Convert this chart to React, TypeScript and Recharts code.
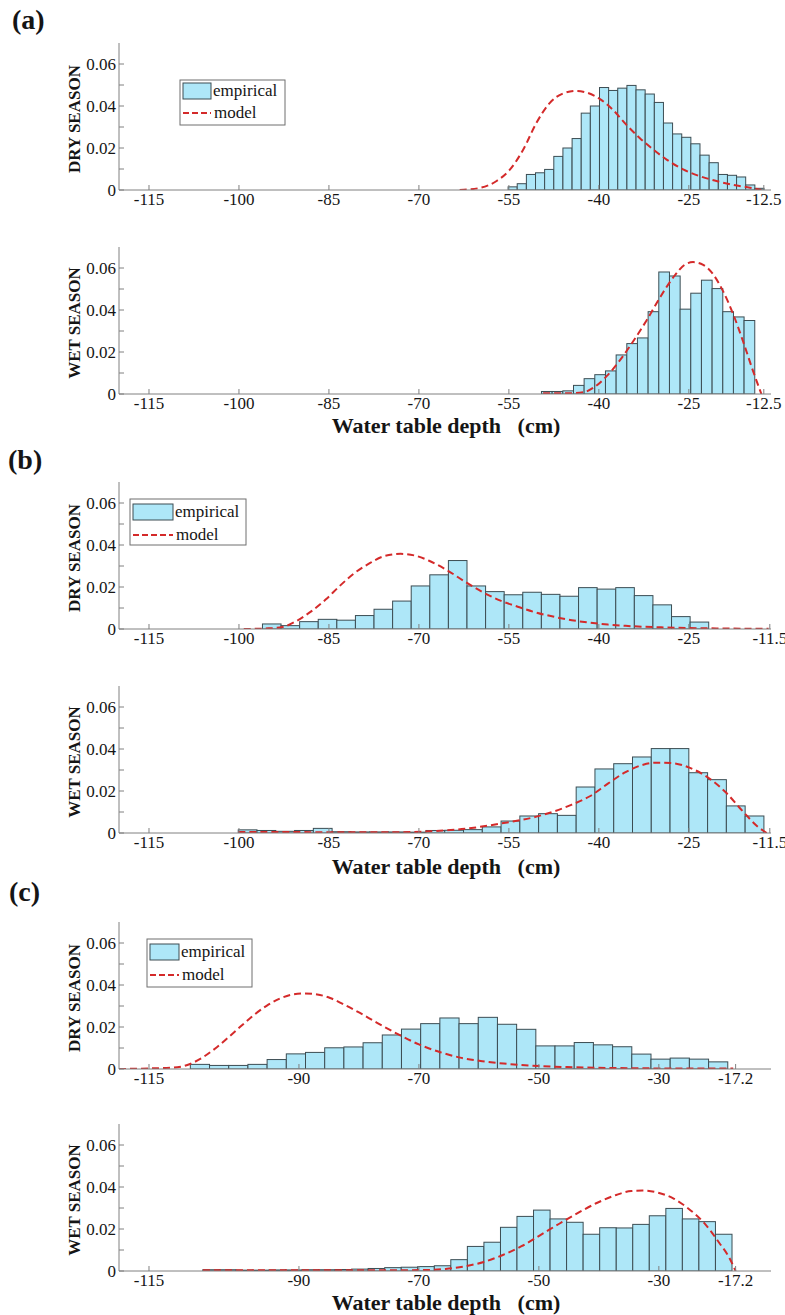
import React from 'react';
import { ComposedChart, Bar, Line, XAxis, YAxis } from 'recharts';

// ---------------- axes ----------------
const X_DOMAIN: [number, number] = [-120, -11.3];
const Y_DOMAIN: [number, number] = [0, 0.07];
const Y_TICKS = [0, 0.01, 0.02, 0.03, 0.04, 0.05, 0.06];
const Y_TICK_LABELS = ['0', '', '0.02', '', '0.04', '', '0.06'];
const X_TICKS_A = [-115, -100, -85, -70, -55, -40, -25, -12.5];
const X_TICKS_B = [-115, -100, -85, -70, -55, -40, -25, -11.5];
const X_TICKS_C = [-115, -90, -70, -50, -30, -17.2];

// ---------------- (a) dry ----------------
const A_DRY_BIN = [-54.37, -52.85, -51.32, -49.8, -48.28, -46.75, -45.23, -43.7, -42.18, -40.66, -39.13, -37.61, -36.09, -34.56, -33.04, -31.51, -29.99, -28.47, -26.94, -25.42, -23.9, -22.37, -20.85, -19.32, -17.8, -16.28, -14.75, -13.23];
const A_DRY_EMP = [0.0015, 0.003, 0.0074, 0.0082, 0.0098, 0.016, 0.02, 0.0245, 0.0366, 0.04, 0.0488, 0.0474, 0.0485, 0.0498, 0.0477, 0.0457, 0.0417, 0.0319, 0.0267, 0.0251, 0.022, 0.0166, 0.013, 0.0074, 0.007, 0.0062, 0.0024, 0.0008];
const A_DRY_MODEL_X = [-63.2, -59.8, -57.05, -54.8, -52.6, -50.4, -48.2, -45.95, -43.7, -42.05, -39.8, -37.6, -35.4, -33.2, -30.95, -28.7, -25.95, -23.2, -20.4, -17.6, -14.8, -12.9];
const A_DRY_MODEL = [0, 0.001, 0.0043, 0.0098, 0.0193, 0.032, 0.0414, 0.046, 0.0472, 0.0464, 0.0433, 0.038, 0.031, 0.0248, 0.0193, 0.0145, 0.0098, 0.0066, 0.0043, 0.0024, 0.0011, 0];

// ---------------- (a) wet ----------------
const A_WET_BIN = [-48.67, -46.89, -45.11, -43.33, -41.56, -39.78, -38.0, -36.22, -34.44, -32.67, -30.89, -29.11, -27.33, -25.56, -23.78, -22.0, -20.22, -18.44, -16.67, -14.89];
const A_WET_EMP = [0.0012, 0.0012, 0.0015, 0.0041, 0.0073, 0.0092, 0.011, 0.0186, 0.024, 0.0267, 0.0392, 0.0581, 0.0562, 0.0404, 0.048, 0.0542, 0.0502, 0.0392, 0.0367, 0.035];
const A_WET_MODEL_X = [-49.3, -45.4, -42.6, -40.9, -38.7, -36.5, -34.3, -32.05, -29.8, -27.6, -25.7, -24.3, -22.6, -20.95, -19.3, -17.6, -15.95, -14.3, -12.9];
const A_WET_MODEL = [0.0003, 0.0003, 0.0008, 0.003, 0.0085, 0.016, 0.025, 0.035, 0.046, 0.0555, 0.0615, 0.0628, 0.0615, 0.057, 0.049, 0.038, 0.025, 0.011, 0];

// ---------------- (b) dry ----------------
const B_DRY_BIN = [-94.53, -91.43, -88.33, -85.23, -82.13, -79.03, -75.93, -72.83, -69.73, -66.63, -63.53, -60.43, -57.33, -54.23, -51.13, -48.03, -44.93, -41.83, -38.73, -35.63, -32.53, -29.43, -26.33, -23.23];
const B_DRY_EMP = [0.0024, 0.0016, 0.0035, 0.0046, 0.0042, 0.0064, 0.0094, 0.0133, 0.0205, 0.0258, 0.0326, 0.0205, 0.0178, 0.0163, 0.0175, 0.0165, 0.0156, 0.0197, 0.019, 0.0197, 0.0159, 0.0115, 0.0059, 0.0033];
const B_DRY_MODEL_X = [-99.2, -95.07, -92.7, -90.3, -87.9, -85.55, -83.2, -80.8, -78.4, -76.0, -73.05, -70.7, -68.3, -65.3, -62.3, -59.35, -56.4, -53.4, -50.4, -47.45, -44.5, -41.5, -38.5, -35.55, -29.6, -23.65, -17.7, -11.7];
const B_DRY_MODEL = [0, 0.0003, 0.001, 0.004, 0.0085, 0.014, 0.0205, 0.0265, 0.031, 0.0345, 0.0358, 0.035, 0.0325, 0.028, 0.0225, 0.0175, 0.0135, 0.0105, 0.0078, 0.0058, 0.0042, 0.003, 0.0021, 0.0015, 0.0008, 0.0004, 0.0002, 0.0001];

// ---------------- (b) wet ----------------
const B_WET_BIN = [-98.55, -95.42, -92.29, -89.16, -86.03, -82.9, -79.77, -76.64, -73.51, -70.38, -67.25, -64.12, -60.99, -57.86, -54.73, -51.6, -48.47, -45.34, -42.21, -39.08, -35.95, -32.82, -29.69, -26.56, -23.43, -20.3, -17.17, -14.04];
const B_WET_EMP = [0.0015, 0.0012, 0.0008, 0.0012, 0.0022, 0.0006, 0.0005, 0.0005, 0.0005, 0.0004, 0.0012, 0.0013, 0.0016, 0.0029, 0.0057, 0.0081, 0.0092, 0.0084, 0.0219, 0.0305, 0.033, 0.0362, 0.0402, 0.0402, 0.0287, 0.0254, 0.0129, 0.0081];
const B_WET_MODEL_X = [-100.1, -86.15, -74.2, -68.3, -62.3, -56.4, -50.4, -44.5, -41.5, -38.5, -35.55, -32.6, -30.4, -27.8, -24.8, -21.85, -18.9, -15.9, -13.5, -12.0];
const B_WET_MODEL = [0.0005, 0.0004, 0.0003, 0.0008, 0.002, 0.0045, 0.0078, 0.0135, 0.0175, 0.0235, 0.029, 0.0325, 0.0335, 0.0333, 0.031, 0.0265, 0.0195, 0.01, 0.003, 0];

// ---------------- (c) dry ----------------
const C_DRY_BIN = [-106.48, -103.28, -100.08, -96.88, -93.68, -90.48, -87.28, -84.08, -80.88, -77.68, -74.48, -71.28, -68.08, -64.88, -61.68, -58.48, -55.28, -52.08, -48.88, -45.68, -42.48, -39.28, -36.08, -32.88, -29.68, -26.48, -23.28, -20.08];
const C_DRY_EMP = [0.0022, 0.0017, 0.0017, 0.0022, 0.0045, 0.0072, 0.0079, 0.0101, 0.0105, 0.0125, 0.0162, 0.019, 0.0216, 0.0243, 0.0216, 0.0246, 0.0213, 0.0189, 0.011, 0.011, 0.0126, 0.0115, 0.0106, 0.0071, 0.0047, 0.0052, 0.0047, 0.0034];
const C_DRY_MODEL_X = [-120, -114.5, -110.3, -108.15, -106.0, -103.9, -101.8, -99.7, -97.55, -95.4, -93.3, -91.2, -89.1, -86.95, -84.8, -82.7, -79.9, -77.05, -73.5, -70.0, -66.45, -62.9, -59.4, -55.85, -52.3, -45.25, -38.2, -31.1, -17.6];
const C_DRY_MODEL = [0, 0.0003, 0.0008, 0.0024, 0.0056, 0.0099, 0.015, 0.0203, 0.0256, 0.0301, 0.0334, 0.0354, 0.036, 0.0355, 0.0338, 0.031, 0.0268, 0.0221, 0.0166, 0.0117, 0.008, 0.0053, 0.0037, 0.0026, 0.0018, 0.0009, 0.0005, 0.0003, 0.0002];

// ---------------- (c) wet ----------------
const C_WET_BIN = [-104.65, -101.89, -99.14, -96.38, -93.62, -90.87, -88.11, -85.35, -82.59, -79.84, -77.08, -74.32, -71.57, -68.81, -66.05, -63.3, -60.54, -57.78, -55.02, -52.27, -49.51, -46.75, -44.0, -41.24, -38.48, -35.72, -32.97, -30.21, -27.45, -24.7, -21.94, -19.18];
const C_WET_EMP = [0.0006, 0.0006, 0.0004, 0.0004, 0.0005, 0.0005, 0.0006, 0.0006, 0.0007, 0.0009, 0.0012, 0.0016, 0.0018, 0.0021, 0.0025, 0.0054, 0.0117, 0.0137, 0.0208, 0.026, 0.029, 0.0248, 0.0232, 0.0175, 0.0206, 0.0205, 0.0222, 0.0263, 0.0298, 0.0248, 0.0235, 0.0175];
const C_WET_MODEL_X = [-106, -90.85, -78.2, -68.7, -65.55, -62.4, -59.2, -56.1, -52.9, -49.75, -46.6, -43.4, -40.25, -37.1, -34.6, -32.7, -30.1, -27.6, -25.1, -22.55, -20.0, -18.1, -17.2];
const C_WET_MODEL = [0.0004, 0.0004, 0.0003, 0.0005, 0.001, 0.0022, 0.0043, 0.0075, 0.0118, 0.0171, 0.0225, 0.0278, 0.0325, 0.0362, 0.0381, 0.0383, 0.0373, 0.0346, 0.0298, 0.0232, 0.0137, 0.0055, 0];

// ---------------- layout / style ----------------
const FONT = '"Liberation Serif", "Times New Roman", Times, serif';
const PAGE_W = 785;
const PAGE_H = 1315;
const PLOT_LEFT = 119;
const PLOT_RIGHT = 771;
const PLOT_H = 147;
const M_TOP = 6;
const XAXIS_H = 34;
const PX_PER_UNIT = (PLOT_RIGHT - PLOT_LEFT) / (X_DOMAIN[1] - X_DOMAIN[0]);
const BAR_FILL = '#aee7f8';
const BAR_STROKE = '#3c4d53';
const MODEL_RED = '#d42a2a';
const FRAME = '#808080';
const TEXT = '#151515';

type LegendSpec = { x: number; y: number; w: number; h: number; sw: number; row1: number; row2: number };

type PanelSpec = {
  top: number;
  season: string;
  binX: number[];
  binY: number[];
  mX: number[];
  mY: number[];
  ticks: number[];
  legend?: LegendSpec;
};

const PANELS: PanelSpec[] = [
  { top: 43, season: 'DRY SEASON', binX: A_DRY_BIN, binY: A_DRY_EMP, mX: A_DRY_MODEL_X, mY: A_DRY_MODEL, ticks: X_TICKS_A,
    legend: { x: 180, y: 80, w: 105, h: 45, sw: 28, row1: 91, row2: 113 } },
  { top: 247, season: 'WET SEASON', binX: A_WET_BIN, binY: A_WET_EMP, mX: A_WET_MODEL_X, mY: A_WET_MODEL, ticks: X_TICKS_A },
  { top: 482, season: 'DRY SEASON', binX: B_DRY_BIN, binY: B_DRY_EMP, mX: B_DRY_MODEL_X, mY: B_DRY_MODEL, ticks: X_TICKS_B,
    legend: { x: 130, y: 499, w: 116, h: 46, sw: 40, row1: 512, row2: 535 } },
  { top: 686, season: 'WET SEASON', binX: B_WET_BIN, binY: B_WET_EMP, mX: B_WET_MODEL_X, mY: B_WET_MODEL, ticks: X_TICKS_B },
  { top: 922, season: 'DRY SEASON', binX: C_DRY_BIN, binY: C_DRY_EMP, mX: C_DRY_MODEL_X, mY: C_DRY_MODEL, ticks: X_TICKS_C,
    legend: { x: 147, y: 939, w: 105, h: 48, sw: 29, row1: 952, row2: 975 } },
  { top: 1124, season: 'WET SEASON', binX: C_WET_BIN, binY: C_WET_EMP, mX: C_WET_MODEL_X, mY: C_WET_MODEL, ticks: X_TICKS_C },
];

const LETTERS = [
  { text: '(a)', x: 12, y: 29 },
  { text: '(b)', x: 8, y: 469 },
  { text: '(c)', x: 9, y: 901 },
];
const TITLE = 'Water table depth   (cm)';
const TITLE_BASELINES = [433, 874, 1310];

function HistRect(props: any) {
  const { x, y, width, height, payload, binPx } = props;
  if (!payload || payload.emp == null || x == null || !(height > 0)) return <g />;
  const cx = x + width / 2;
  return (
    <rect x={cx - binPx / 2} y={y} width={binPx} height={height}
      fill={BAR_FILL} stroke={BAR_STROKE} strokeWidth={1} />
  );
}

const tickStyle = { fill: TEXT, fontSize: 17, fontFamily: FONT };

function Panel({ p }: { p: PanelSpec }) {
  const rows = [
    ...p.binX.map((x, i) => ({ x, emp: p.binY[i] as number | undefined, model: undefined as number | undefined })),
    ...p.mX.map((x, i) => ({ x, emp: undefined as number | undefined, model: p.mY[i] as number | undefined })),
  ].sort((a, b) => a.x - b.x);
  const binPx = (p.binX[1] - p.binX[0]) * PX_PER_UNIT;
  return (
    <div style={{ position: 'absolute', left: 0, top: p.top - M_TOP }}>
      <ComposedChart
        width={PAGE_W}
        height={M_TOP + PLOT_H + XAXIS_H}
        data={rows}
        margin={{ top: M_TOP, right: PAGE_W - PLOT_RIGHT, bottom: 0, left: 0 }}
      >
        <XAxis xAxisId="main" type="number" dataKey="x" domain={X_DOMAIN} ticks={p.ticks} interval={0}
          allowDataOverflow height={XAXIS_H} tickSize={-5} tickMargin={8} stroke={FRAME}
          tick={tickStyle} tickFormatter={(v: number) => String(v)} />
        <XAxis xAxisId="top" orientation="top" type="number" dataKey="x" domain={X_DOMAIN} ticks={p.ticks}
          interval={0} allowDataOverflow height={0} tickSize={-5} tick={false} stroke={FRAME} />
        <YAxis yAxisId="main" type="number" domain={Y_DOMAIN} ticks={Y_TICKS} interval={0} allowDataOverflow
          width={PLOT_LEFT} tickSize={-5} tickMargin={8} stroke={FRAME} tick={tickStyle}
          tickFormatter={(v: number, i: number) => Y_TICK_LABELS[i] ?? ''} />
        <YAxis yAxisId="right" orientation="right" type="number" domain={Y_DOMAIN} ticks={Y_TICKS} interval={0}
          allowDataOverflow width={0} tickSize={-5} tick={false} stroke={FRAME} />
        <Bar xAxisId="main" yAxisId="main" dataKey="emp" barSize={1} isAnimationActive={false}
          shape={(sp: any) => <HistRect {...sp} binPx={binPx} />} />
        <Line xAxisId="main" yAxisId="main" dataKey="model" type="monotone" stroke={MODEL_RED}
          strokeWidth={2} strokeDasharray="7 4" dot={false} activeDot={false} connectNulls
          isAnimationActive={false} />
      </ComposedChart>
    </div>
  );
}

function LegendBox({ l }: { l: LegendSpec }) {
  const sx = l.x + 3;
  return (
    <g>
      <rect x={l.x} y={l.y} width={l.w} height={l.h} fill="#ffffff" stroke="#6f6f6f" strokeWidth={1} />
      <rect x={sx} y={l.row1 - 8} width={l.sw} height={16} fill={BAR_FILL} stroke={BAR_STROKE} strokeWidth={1} />
      <text x={sx + l.sw + 2} y={l.row1 + 5} fontFamily={FONT} fontSize={17} fill={TEXT}>empirical</text>
      <line x1={sx} x2={sx + l.sw} y1={l.row2} y2={l.row2} stroke={MODEL_RED} strokeWidth={2} strokeDasharray="6 3" />
      <text x={sx + l.sw + 3} y={l.row2 + 5} fontFamily={FONT} fontSize={17} fill={TEXT}>model</text>
    </g>
  );
}

export default function App() {
  return (
    <div style={{ position: 'absolute', left: 0, top: 0, width: PAGE_W, height: PAGE_H, background: '#ffffff', overflow: 'hidden' }}>
      {PANELS.map((p, i) => <Panel key={i} p={p} />)}
      <svg width={PAGE_W} height={PAGE_H} style={{ position: 'absolute', left: 0, top: 0, pointerEvents: 'none' }}>
        {LETTERS.map((t, i) => (
          <text key={'l' + i} x={t.x} y={t.y} fontFamily={FONT} fontWeight="bold" fontSize={28} fill={TEXT}>{t.text}</text>
        ))}
        {PANELS.map((p, i) => (
          <text key={'s' + i} transform={`translate(80, ${p.top + 76}) rotate(-90)`} textAnchor="middle"
            fontFamily={FONT} fontWeight="bold" fontSize={17} fill={TEXT}>{p.season}</text>
        ))}
        {TITLE_BASELINES.map((y, i) => (
          <text key={'t' + i} x={446} y={y} textAnchor="middle" fontFamily={FONT} fontWeight="bold" fontSize={22}
            fill={TEXT} style={{ whiteSpace: 'pre' }} xmlSpace="preserve">{TITLE}</text>
        ))}
        {PANELS.map((p, i) => (p.legend ? <LegendBox key={'g' + i} l={p.legend} /> : null))}
      </svg>
    </div>
  );
}
